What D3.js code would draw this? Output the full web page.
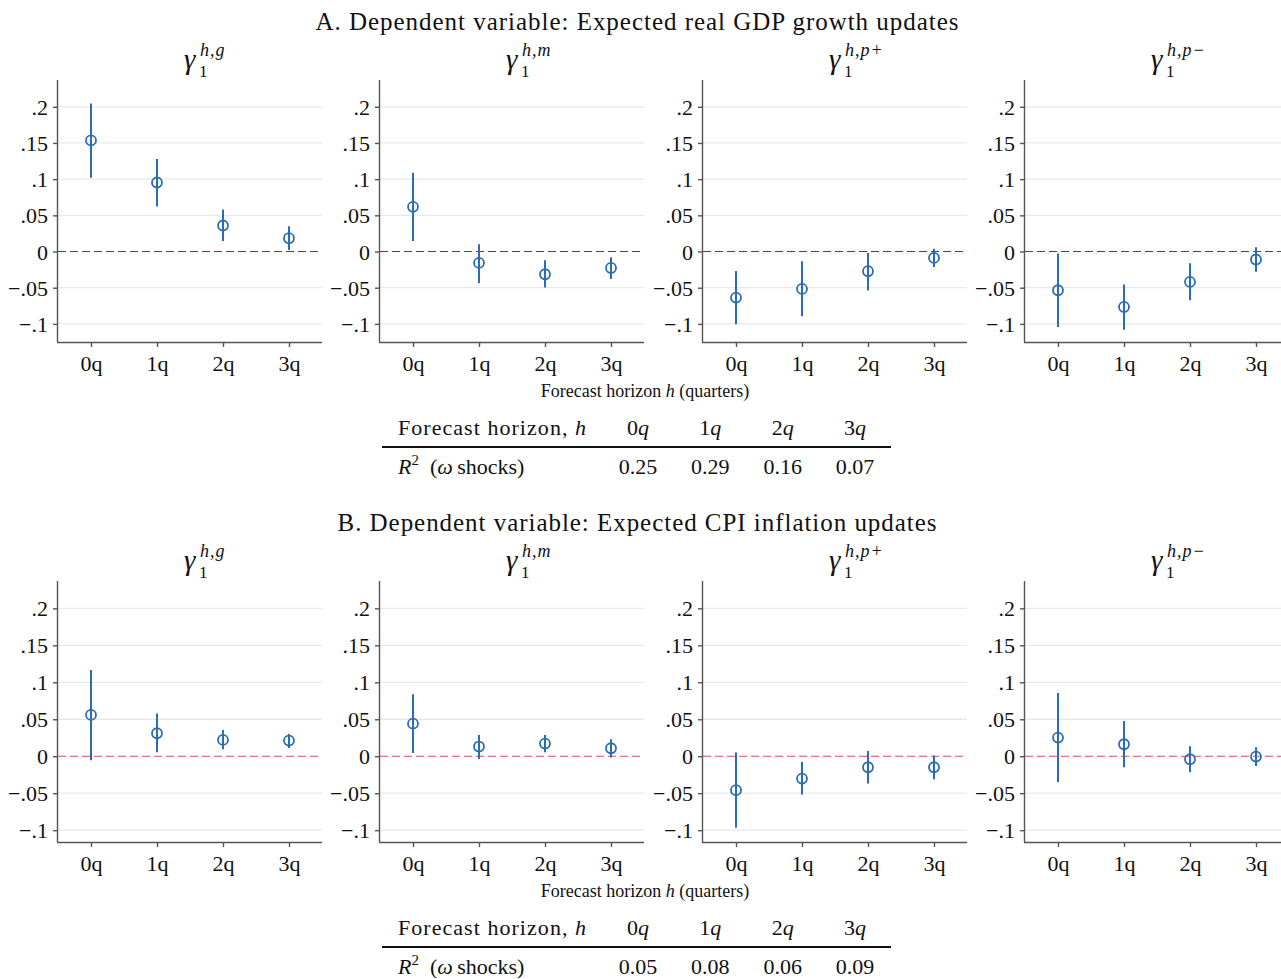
<!DOCTYPE html>
<html>
<head>
<meta charset="utf-8">
<script src="https://cdn.jsdelivr.net/npm/d3@7"></script>
<style>
  body { margin: 0; background: #fff; }
  svg { display: block; font-family: "Liberation Serif", "Times New Roman", serif; }
</style>
</head>
<body>
<div id="chart"></div>
<script>
// ---- dados ----
const horizons = ["0q", "1q", "2q", "3q"];
const coefSup = ["h,g", "h,m", "h,p+", "h,p\u2212"];
const yTicks = [-0.1, -0.05, 0, 0.05, 0.1, 0.15, 0.2];
const yTickLabels = ["\u2212.1", "\u2212.05", "0", ".05", ".1", ".15", ".2"];

// Painel A: PIB real
const gdpEst = [
  [0.1535, 0.0954, 0.036, 0.0184],
  [0.0617, -0.0157, -0.0314, -0.0227],
  [-0.0636, -0.0517, -0.0272, -0.0088],
  [-0.0535, -0.0766, -0.042, -0.011]
];
const gdpLo = [
  [0.1018, 0.0622, 0.0147, 0.002],
  [0.0147, -0.0434, -0.0498, -0.0379],
  [-0.1006, -0.0895, -0.054, -0.0213],
  [-0.1043, -0.108, -0.0674, -0.028]
];
const gdpHi = [
  [0.2047, 0.128, 0.058, 0.035],
  [0.109, 0.010, -0.012, -0.0079],
  [-0.0268, -0.0134, -0.0019, 0.004],
  [-0.0028, -0.0457, -0.0162, 0.006]
];

// Painel B: inflação CPI
const cpiEst = [
  [0.0559, 0.0311, 0.0221, 0.0212],
  [0.0441, 0.0131, 0.0171, 0.0108],
  [-0.0459, -0.0302, -0.0149, -0.0149],
  [0.0252, 0.0162, -0.0041, -0.0005]
];
const cpiLo = [
  [-0.0054, 0.0054, 0.0095, 0.0113],
  [0.0045, -0.0036, 0.0054, -0.0018],
  [-0.0968, -0.0518, -0.0369, -0.0311],
  [-0.0347, -0.0149, -0.0216, -0.0131]
];
const cpiHi = [
  [0.1167, 0.0577, 0.0356, 0.0302],
  [0.0838, 0.0288, 0.0288, 0.023],
  [0.005, -0.0077, 0.0072, 0.0009],
  [0.0856, 0.0477, 0.0135, 0.0122]
];

const r2Gdp = ["0.25", "0.29", "0.16", "0.07"];
const r2Cpi = ["0.05", "0.08", "0.06", "0.09"];

// ---- layout ----
const W = 1281, H = 979;
const panelX = [58, 380, 703, 1025];
const panelW = 264;
const blue = "#2a6db5";

const rows = [
  { title: "A. Dependent variable: Expected real GDP growth updates", titleY: 30, titleLen: 643,
    top: 80, bottom: 342, domain: [-0.125, 0.237], est: gdpEst, lo: gdpLo, hi: gdpHi,
    zeroColor: "#8e2a2b", r2: r2Gdp },
  { title: "B. Dependent variable: Expected CPI inflation updates", titleY: 531, titleLen: 599,
    top: 581, bottom: 842, domain: [-0.116, 0.237], est: cpiEst, lo: cpiLo, hi: cpiHi,
    zeroColor: "#dd4b61", r2: r2Cpi }
];

const svg = d3.select("#chart").append("svg")
  .attr("width", W).attr("height", H);

rows.forEach(row => {
  svg.append("text")
    .attr("x", 637).attr("y", row.titleY)
    .attr("text-anchor", "middle")
    .attr("font-size", 25)
    .attr("textLength", row.titleLen)
    .attr("fill", "#111")
    .text(row.title);

  const y = d3.scaleLinear().domain(row.domain).range([row.bottom, row.top]);

  panelX.forEach((px, p) => {
    const x = d3.scaleLinear().domain([-0.5, 3.5]).range([px, px + panelW]);
    const g = svg.append("g");

    // grade
    g.selectAll(".grid").data(yTicks.filter(t => t !== 0)).join("line")
      .attr("x1", px).attr("x2", px + panelW)
      .attr("y1", d => y(d)).attr("y2", d => y(d))
      .attr("stroke", "#e9e9e9").attr("stroke-width", 1.3);

    // linha do zero
    g.append("line")
      .attr("x1", px).attr("x2", px + panelW)
      .attr("y1", y(0)).attr("y2", y(0))
      .attr("stroke", row.zeroColor).attr("stroke-width", 1.1)
      .attr("stroke-dasharray", "8,4");

    // eixo Y
    const yAxis = d3.axisLeft(y).tickValues(yTicks)
      .tickFormat((d, i) => yTickLabels[i]).tickSize(5).tickPadding(5);
    const ya = g.append("g").attr("transform", `translate(${px},0)`).call(yAxis);
    ya.select(".domain").attr("d", `M-0.5,${row.top}V${row.bottom}`);
    ya.selectAll("path, line").attr("stroke", "#555").attr("stroke-width", 1.4);
    ya.selectAll("text").attr("font-size", 22).attr("fill", "#111")
      .attr("font-family", "Liberation Serif, serif").attr("dy", "0.34em");

    // eixo X
    const xAxis = d3.axisBottom(x).tickValues([0, 1, 2, 3])
      .tickFormat(i => horizons[i]).tickSize(5).tickPadding(8);
    const xa = g.append("g").attr("transform", `translate(0,${row.bottom})`).call(xAxis);
    xa.select(".domain").attr("d", `M${px - 1},0.5H${px + panelW}`);
    xa.selectAll("path, line").attr("stroke", "#555").attr("stroke-width", 1.4);
    xa.selectAll("text").attr("font-size", 22).attr("fill", "#111")
      .attr("font-family", "Liberation Serif, serif");

    // intervalos e pontos
    const pts = horizons.map((h, i) => ({ i, est: row.est[p][i], lo: row.lo[p][i], hi: row.hi[p][i] }));
    g.selectAll(".ci").data(pts).join("line")
      .attr("x1", d => x(d.i)).attr("x2", d => x(d.i))
      .attr("y1", d => y(d.lo)).attr("y2", d => y(d.hi))
      .attr("stroke", blue).attr("stroke-width", 2);
    g.selectAll(".pt").data(pts).join("circle")
      .attr("cx", d => x(d.i)).attr("cy", d => y(d.est)).attr("r", 5)
      .attr("fill", "#fff").attr("fill-opacity", 0)
      .attr("stroke", blue).attr("stroke-width", 1.8);

    // título do painel: gamma_1^{h,.}
    const tx = px + 126, ty = row.top - 11;
    g.append("text").attr("x", tx).attr("y", ty)
      .attr("font-size", 29).attr("font-style", "italic").attr("fill", "#111").text("\u03b3");
    g.append("text").attr("x", tx + 16).attr("y", ty - 13)
      .attr("font-size", 18).attr("font-style", "italic").attr("fill", "#111")
      .attr("letter-spacing", 1).text(coefSup[p]);
    g.append("text").attr("x", tx + 15).attr("y", ty + 8)
      .attr("font-size", 17).attr("fill", "#111").text("1");
  });

  // rótulo comum do eixo X
  const lab = svg.append("text")
    .attr("x", 645).attr("y", row.bottom + 55)
    .attr("text-anchor", "middle").attr("font-size", 18).attr("fill", "#111");
  lab.append("tspan").text("Forecast horizon ");
  lab.append("tspan").attr("font-style", "italic").text("h");
  lab.append("tspan").text(" (quarters)");

  // tabela de R²
  const col = d3.scalePoint().domain(horizons).range([638, 855]);
  const hy = row.bottom + 93, ry = row.bottom + 132, ly = row.bottom + 105;
  const head = svg.append("text").attr("x", 398).attr("y", hy)
    .attr("font-size", 22).attr("fill", "#111")
    .attr("textLength", 188);
  head.append("tspan").text("Forecast horizon, ");
  head.append("tspan").attr("font-style", "italic").text("h");

  horizons.forEach(h => {
    const t = svg.append("text").attr("x", col(h)).attr("y", hy)
      .attr("text-anchor", "middle").attr("font-size", 22).attr("fill", "#111");
    t.append("tspan").text(h[0]);
    t.append("tspan").attr("font-style", "italic").text("q");
  });

  svg.append("line")
    .attr("x1", 382).attr("x2", 891).attr("y1", ly).attr("y2", ly)
    .attr("stroke", "#111").attr("stroke-width", 2);

  const rl = svg.append("text").attr("x", 398).attr("y", ry)
    .attr("font-size", 22).attr("fill", "#111");
  rl.append("tspan").attr("font-style", "italic").text("R");
  rl.append("tspan").attr("font-size", 15).attr("dy", -9).text("2");
  rl.append("tspan").attr("dy", 9).text("\u2002(");
  rl.append("tspan").attr("font-style", "italic").text("\u03c9");
  rl.append("tspan").text("\u2009shocks)");

  svg.selectAll(null).data(row.r2).join("text")
    .attr("x", (d, i) => col(horizons[i])).attr("y", ry)
    .attr("text-anchor", "middle").attr("font-size", 22).attr("fill", "#111")
    .text(d => d);
});
</script>
</body>
</html>
